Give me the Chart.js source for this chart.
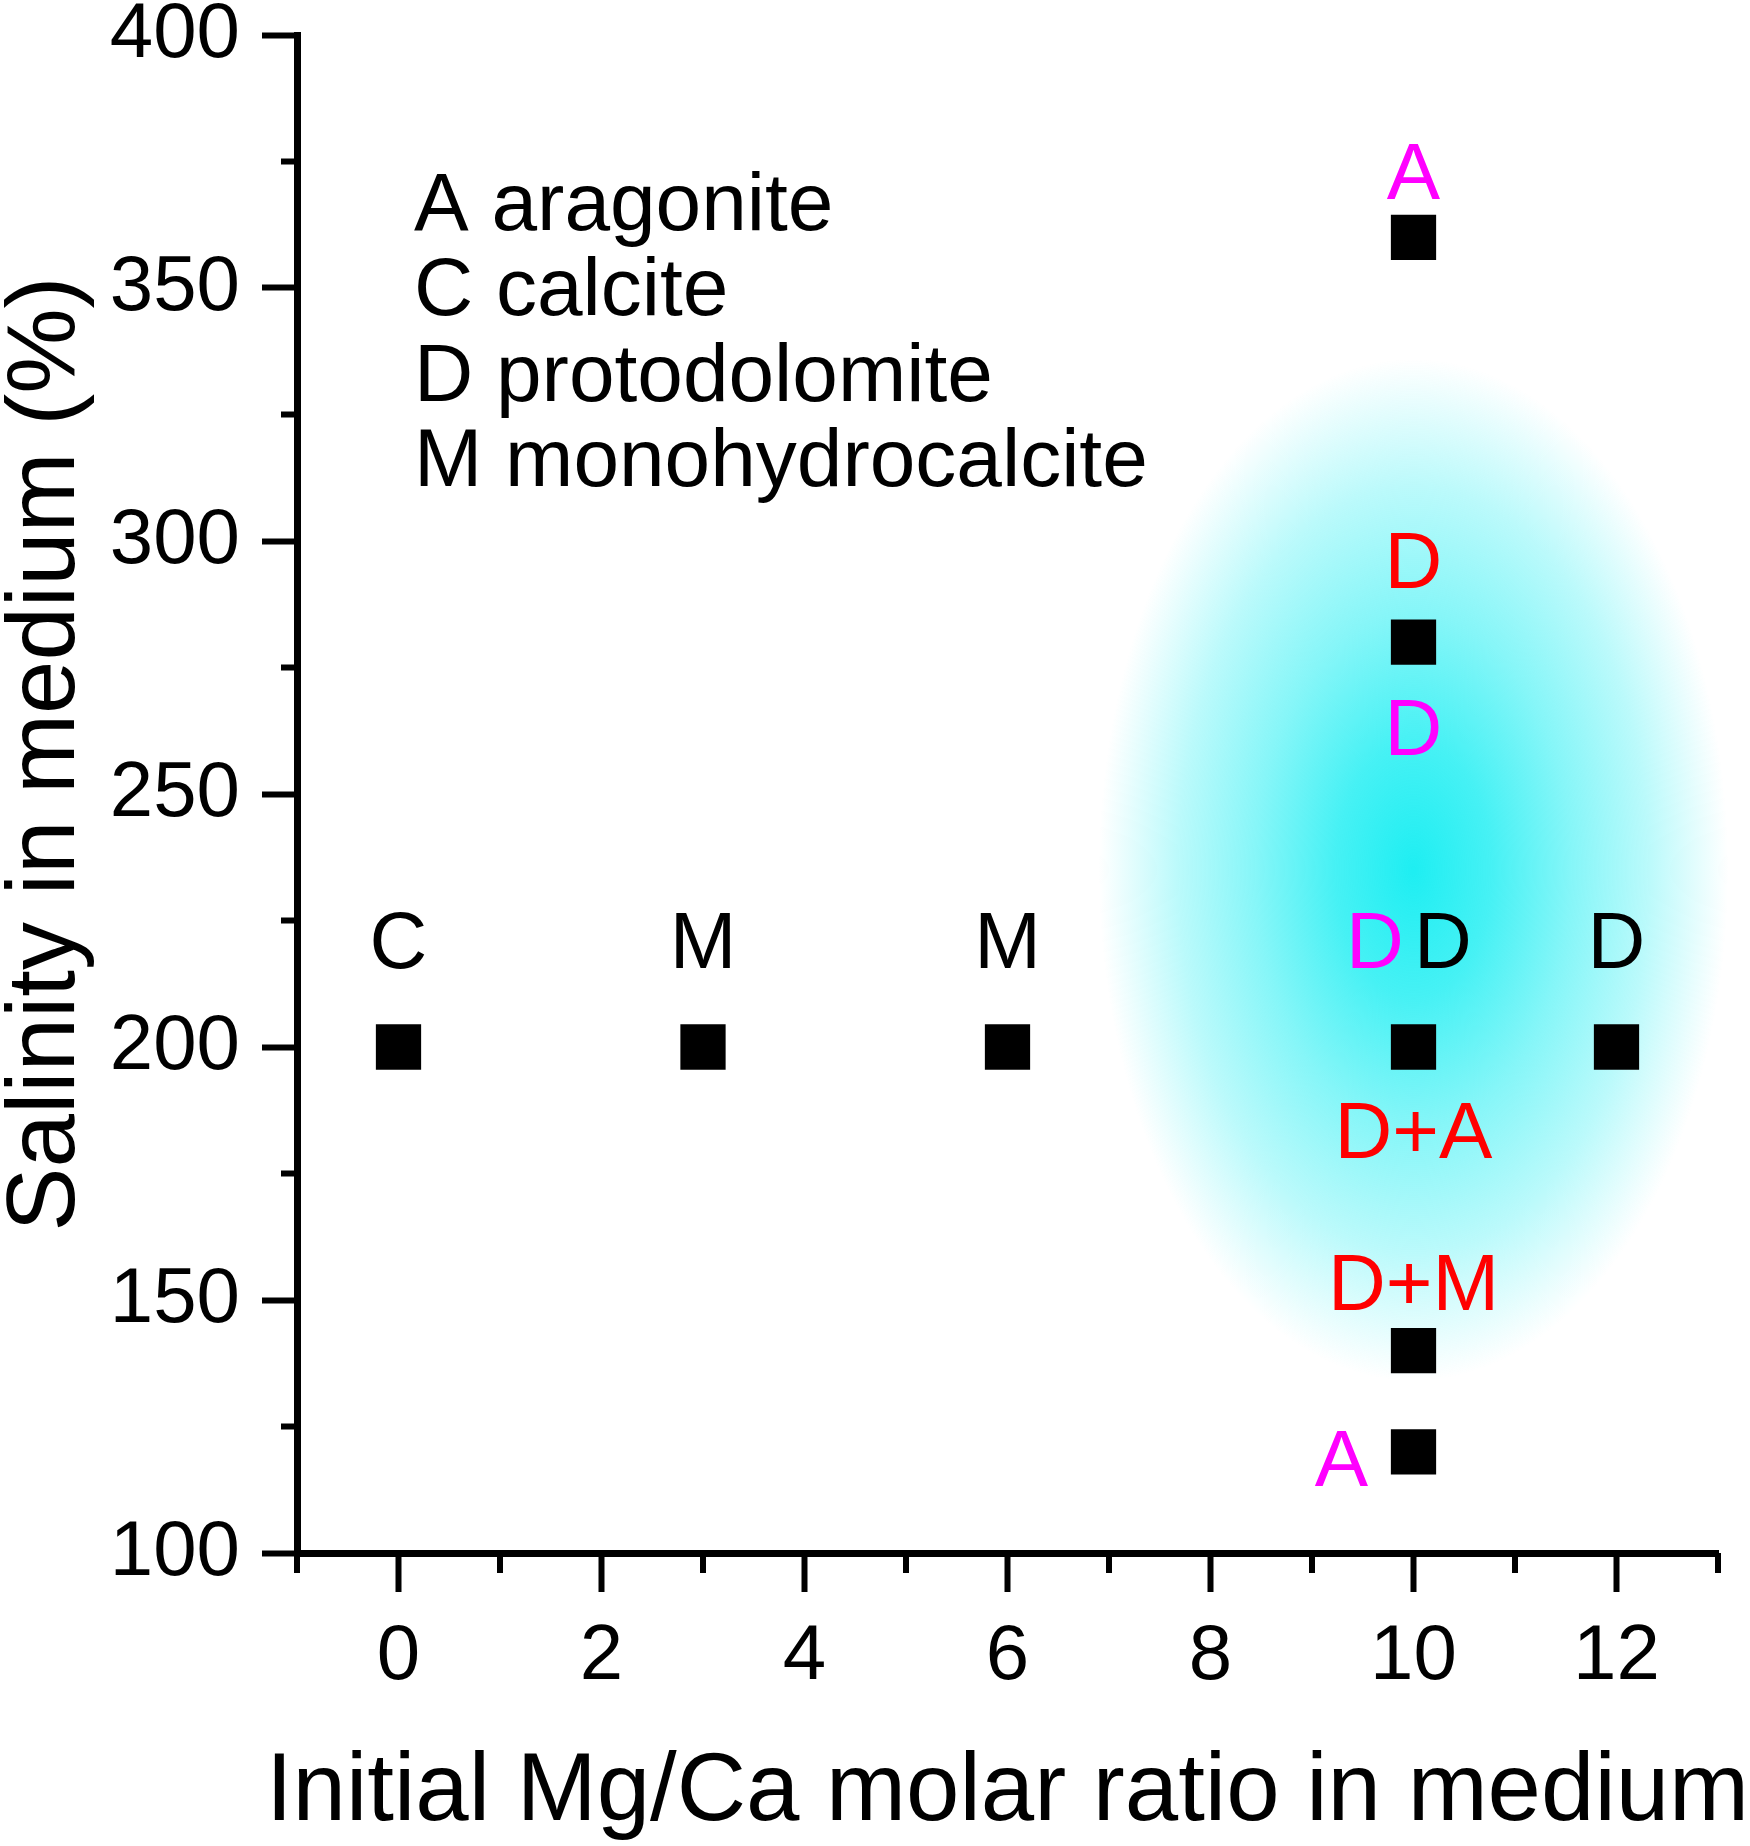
<!DOCTYPE html>
<html>
<head>
<meta charset="utf-8">
<script src="https://cdn.jsdelivr.net/npm/chart.js@4.4.1/dist/chart.umd.min.js"></script>
<style>
  html, body { margin: 0; padding: 0; background: #fff; }
  canvas { display: block; }
</style>
</head>
<body>
<canvas id="chart" width="1750" height="1846"></canvas>
<script>
// sample points: initial Mg/Ca ratio vs salinity (%)
const ratioX = [0, 3, 6, 10, 12, 10, 10, 10, 10];
const salinityY = [200, 200, 200, 200, 200, 360, 280, 140, 120];

// mineral labels written beside the points (group: 0 black, 1 magenta, 2 red)
const labelText = ['C', 'M', 'M', 'D', 'D', 'D', 'A', 'D', 'D', 'D+A', 'D+M', 'A'];
const labelX = [0, 3, 6, 9.62, 10.29, 12, 10, 10, 10, 10, 10, 9.29];
const labelY = [220, 220, 220, 220, 220, 220, 372, 295, 262, 182.4, 152.4, 117.6];
const labelGroup = [0, 0, 0, 1, 0, 0, 1, 2, 1, 2, 2, 1];

const legendLines = ['A aragonite', 'C calcite', 'D protodolomite', 'M monohydrocalcite'];

const xTickLabels = [0, 2, 4, 6, 8, 10, 12];
const yTickLabels = [100, 150, 200, 250, 300, 350, 400];

const xTitle = 'Initial Mg/Ca molar ratio in medium';
const yTitle = 'Salinity in medium (%)';

// cyan glow behind the dolomite field (data units)
const glowCenter = [10, 235];
const glowRadius = [3.1, 101];

const FONT = '"Liberation Sans", Arial, sans-serif';
const groupColors = ['#000000', '#ff00ff', '#ff0000'];

const decor = {
    id: 'decor',
    beforeDatasetsDraw(chart) {
        const { ctx } = chart;
        const x = chart.scales.x, y = chart.scales.y;
        const cx = x.getPixelForValue(glowCenter[0]);
        const cy = y.getPixelForValue(glowCenter[1]);
        const rx = x.getPixelForValue(glowCenter[0] + glowRadius[0]) - cx;
        const ry = cy - y.getPixelForValue(glowCenter[1] + glowRadius[1]);
        ctx.save();
        ctx.translate(cx, cy);
        ctx.scale(rx, ry);
        const g = ctx.createRadialGradient(0, 0, 0, 0, 0, 1);
        g.addColorStop(0, 'rgba(30,238,242,1)');
        g.addColorStop(0.25, 'rgba(30,238,242,0.82)');
        g.addColorStop(0.5, 'rgba(30,238,242,0.54)');
        g.addColorStop(0.75, 'rgba(30,238,242,0.3)');
        g.addColorStop(0.9, 'rgba(30,238,242,0.12)');
        g.addColorStop(1, 'rgba(30,238,242,0)');
        ctx.fillStyle = g;
        ctx.beginPath();
        ctx.arc(0, 0, 1, 0, Math.PI * 2);
        ctx.fill();
        ctx.restore();
    },
    afterDatasetsDraw(chart) {
        const { ctx, chartArea } = chart;
        const x = chart.scales.x, y = chart.scales.y;
        ctx.save();
        ctx.font = '80px ' + FONT;
        ctx.textAlign = 'center';
        ctx.textBaseline = 'middle';
        labelText.forEach((t, i) => {
            ctx.fillStyle = groupColors[labelGroup[i]];
            ctx.fillText(t, x.getPixelForValue(labelX[i]), y.getPixelForValue(labelY[i]));
        });
        // legend block, text only
        ctx.font = '82px ' + FONT;
        ctx.fillStyle = '#000';
        ctx.textAlign = 'left';
        ctx.textBaseline = 'alphabetic';
        legendLines.forEach((t, i) => {
            ctx.fillText(t, chartArea.left + 117, chartArea.top + 195 + i * 85.3);
        });
        ctx.restore();
    },
    afterDraw(chart) {
        const { ctx, chartArea } = chart;
        const x = chart.scales.x, y = chart.scales.y;
        ctx.save();
        // minor ticks (odd x, every 25 on y)
        ctx.strokeStyle = '#000';
        ctx.lineWidth = 6;
        ctx.beginPath();
        x.ticks.forEach(t => {
            if (xTickLabels.includes(t.value)) return;
            const px = x.getPixelForValue(t.value);
            ctx.moveTo(px, chartArea.bottom);
            ctx.lineTo(px, chartArea.bottom + 20);
        });
        y.ticks.forEach(t => {
            if (yTickLabels.includes(t.value)) return;
            const py = y.getPixelForValue(t.value);
            ctx.moveTo(chartArea.left, py);
            ctx.lineTo(chartArea.left - 16, py);
        });
        ctx.stroke();
        // x title is wider than the plot, so it is drawn here without maxWidth
        ctx.font = '96px ' + FONT;
        ctx.fillStyle = '#000';
        ctx.textAlign = 'center';
        ctx.textBaseline = 'middle';
        ctx.fillText(xTitle, (chartArea.left + chartArea.right) / 2, x.bottom - 52);
        ctx.restore();
    }
};

const ctx = document.getElementById('chart').getContext('2d');
new Chart(ctx, {
    type: 'scatter',
    data: {
        datasets: [{
            data: ratioX.map((v, i) => ({ x: v, y: salinityY[i] })),
            pointStyle: 'rect',
            pointRadius: 32,
            pointHoverRadius: 32,
            backgroundColor: '#000',
            borderWidth: 0,
            clip: false
        }]
    },
    options: {
        responsive: false,
        devicePixelRatio: 1,
        animation: false,
        events: [],
        layout: { padding: { top: 35, right: 28, left: 0, bottom: 0 } },
        plugins: {
            legend: { display: false },
            tooltip: { enabled: false }
        },
        scales: {
            x: {
                type: 'linear',
                min: -1,
                max: 13,
                afterFit(s) { s.height = 293; s.paddingLeft = 0; s.paddingRight = 0; },
                border: { color: '#000', width: 7 },
                grid: {
                    drawOnChartArea: false,
                    tickLength: 39,
                    tickWidth: 6,
                    tickColor: c => (c.tick && xTickLabels.includes(c.tick.value)) ? '#000' : 'rgba(0,0,0,0)'
                },
                ticks: {
                    stepSize: 1,
                    autoSkip: false,
                    maxRotation: 0,
                    padding: 19,
                    color: '#000',
                    font: { family: FONT, size: 78 },
                    callback: v => xTickLabels.includes(v) ? String(v) : ''
                },
                title: { display: false, text: xTitle }
            },
            y: {
                type: 'linear',
                min: 100,
                max: 400,
                afterFit(s) { s.width = 297; s.paddingTop = 0; s.paddingBottom = 0; },
                border: { color: '#000', width: 7 },
                grid: {
                    drawOnChartArea: false,
                    tickLength: 35,
                    tickWidth: 6,
                    tickColor: c => (c.tick && yTickLabels.includes(c.tick.value)) ? '#000' : 'rgba(0,0,0,0)'
                },
                ticks: {
                    stepSize: 25,
                    autoSkip: false,
                    padding: 22,
                    color: '#000',
                    font: { family: FONT, size: 78 },
                    callback: v => yTickLabels.includes(v) ? String(v) : ''
                },
                title: {
                    display: true,
                    // leading spaces move the centred title up to where the reference has it
                    text: '   ' + yTitle,
                    color: '#000',
                    font: { family: FONT, size: 96, lineHeight: 0.98 },
                    padding: { top: 0, bottom: 0 }
                }
            }
        }
    },
    plugins: [decor]
});
</script>
</body>
</html>
